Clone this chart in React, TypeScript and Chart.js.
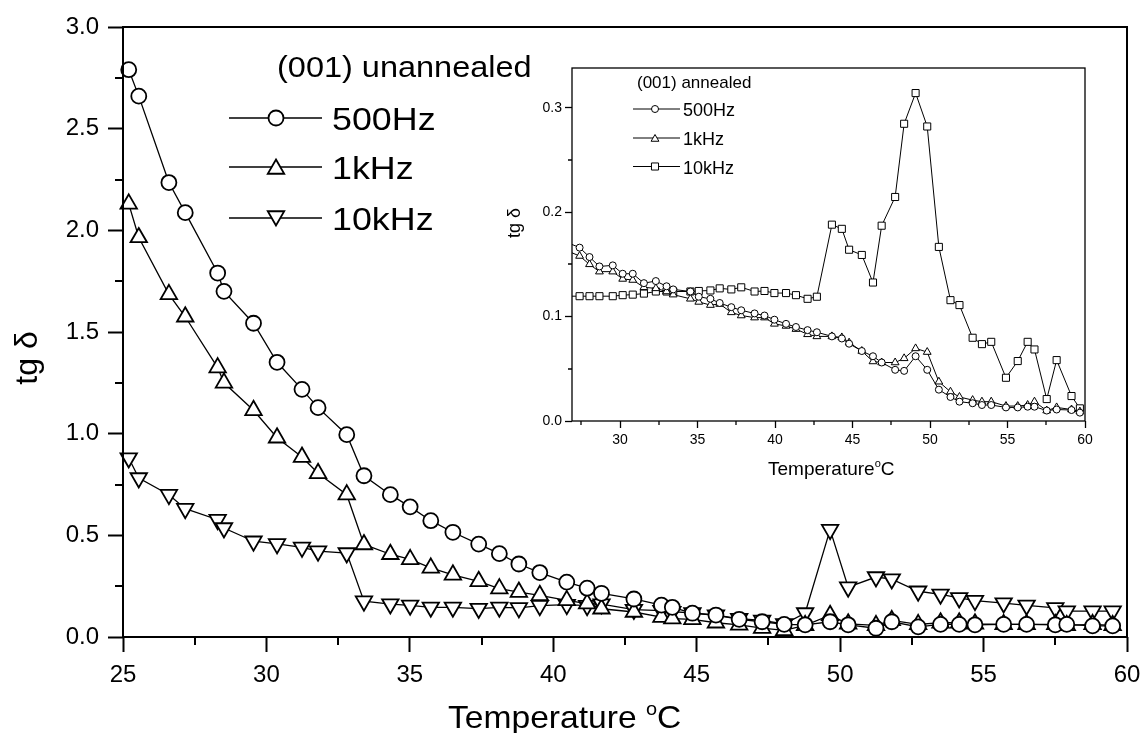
import React, { useEffect, useRef } from 'react';
import { Chart, registerables } from 'chart.js';

Chart.register(...registerables);

const FONT = '"Liberation Sans", Arial, Helvetica, sans-serif';
Chart.defaults.font.family = FONT;
Chart.defaults.color = '#000';

// ---------------- main chart data: (001) unannealed ----------------
const mainTitle = '(001) unannealed';
const seriesLabels = ['500Hz', '1kHz', '10kHz'];
const mainTemps = [25.2, 25.55, 26.6, 27.17, 28.3, 28.52, 29.55, 30.37, 31.24, 31.8, 32.8, 33.4, 34.32, 35.01, 35.73, 36.5, 37.4, 38.12, 38.8, 39.53, 40.47, 41.18, 41.68, 42.81, 43.77, 44.15, 44.85, 45.67, 46.48, 47.28, 48.05, 48.78, 49.65, 50.28, 51.25, 51.8, 52.72, 53.5, 54.15, 54.7, 55.7, 56.5, 57.5, 57.9, 58.8, 59.5];
const main500Hz = [2.79, 2.66, 2.235, 2.087, 1.79, 1.7, 1.543, 1.351, 1.218, 1.128, 0.995, 0.793, 0.7, 0.64, 0.572, 0.515, 0.457, 0.41, 0.359, 0.317, 0.27, 0.24, 0.215, 0.187, 0.157, 0.146, 0.117, 0.108, 0.087, 0.075, 0.062, 0.06, 0.075, 0.06, 0.043, 0.075, 0.05, 0.062, 0.062, 0.06, 0.062, 0.062, 0.06, 0.062, 0.055, 0.055];
const main1kHz = [2.13, 1.965, 1.685, 1.575, 1.325, 1.25, 1.115, 0.98, 0.885, 0.805, 0.7, 0.455, 0.407, 0.382, 0.34, 0.306, 0.274, 0.238, 0.221, 0.205, 0.18, 0.164, 0.139, 0.123, 0.098, 0.09, 0.087, 0.07, 0.06, 0.044, 0.033, 0.057, 0.107, 0.065, 0.057, 0.082, 0.062, 0.07, 0.07, 0.065, 0.062, 0.062, 0.062, 0.057, 0.062, 0.057];
const main10kHz = [0.88, 0.782, 0.7, 0.631, 0.577, 0.536, 0.471, 0.458, 0.441, 0.422, 0.413, 0.176, 0.162, 0.156, 0.146, 0.146, 0.14, 0.146, 0.143, 0.154, 0.159, 0.154, 0.162, 0.135, 0.13, 0.125, 0.118, 0.107, 0.09, 0.082, 0.064, 0.118, 0.528, 0.245, 0.295, 0.285, 0.225, 0.21, 0.192, 0.179, 0.167, 0.156, 0.143, 0.127, 0.127, 0.127];
const mainXTicks = [25, 30, 35, 40, 45, 50, 55, 60];
const mainYTicks = [0, 0.5, 1.0, 1.5, 2.0, 2.5, 3.0];
const mainXMinor = [27.5, 32.5, 37.5, 42.5, 47.5, 52.5, 57.5];
const mainYMinor = [0.25, 0.75, 1.25, 1.75, 2.25, 2.75];

// ---------------- inset chart data: (001) annealed ----------------
const insetTitle = '(001) annealed';
const insetTemps = [26.5, 27.39, 28.03, 28.67, 29.53, 30.17, 30.82, 31.54, 32.31, 33.0, 33.43, 34.54, 35.08, 35.83, 36.43, 37.18, 37.82, 38.68, 39.32, 39.96, 40.71, 41.35, 42.1, 42.7, 43.67, 44.31, 44.78, 45.6, 46.32, 46.88, 47.75, 48.33, 49.07, 49.82, 50.57, 51.32, 51.9, 52.75, 53.35, 53.95, 54.9, 55.66, 56.3, 56.74, 57.53, 58.17, 59.13, 59.67];
const inset500Hz = [0.1715, 0.166, 0.157, 0.148, 0.149, 0.141, 0.141, 0.132, 0.134, 0.129, 0.126, 0.124, 0.119, 0.117, 0.113, 0.109, 0.106, 0.103, 0.101, 0.097, 0.093, 0.09, 0.087, 0.085, 0.081, 0.079, 0.074, 0.067, 0.062, 0.056, 0.049, 0.048, 0.062, 0.049, 0.03, 0.023, 0.0185, 0.017, 0.0153, 0.0153, 0.013, 0.013, 0.0137, 0.0137, 0.01, 0.011, 0.0105, 0.008];
const inset1kHz = [0.1635, 0.158, 0.15, 0.143, 0.143, 0.136, 0.135, 0.128, 0.127, 0.124, 0.121, 0.117, 0.114, 0.111, 0.112, 0.104, 0.101, 0.099, 0.099, 0.093, 0.091, 0.088, 0.083, 0.081, 0.081, 0.08, 0.075, 0.067, 0.057, 0.056, 0.056, 0.06, 0.0695, 0.066, 0.0376, 0.028, 0.023, 0.02, 0.0185, 0.0185, 0.0143, 0.0143, 0.0153, 0.0185, 0.01, 0.013, 0.011, 0.009];
const inset10kHz = [0.1195, 0.1195, 0.1195, 0.1195, 0.1195, 0.1205, 0.121, 0.122, 0.124, 0.124, 0.124, 0.124, 0.1245, 0.125, 0.127, 0.126, 0.128, 0.124, 0.1245, 0.1225, 0.1225, 0.1205, 0.117, 0.119, 0.188, 0.184, 0.164, 0.159, 0.1326, 0.187, 0.2145, 0.2846, 0.314, 0.282, 0.1667, 0.1157, 0.111, 0.0797, 0.0736, 0.0758, 0.0414, 0.0574, 0.0758, 0.0685, 0.021, 0.0583, 0.0239, 0.0121];
const insetXTicks = [30, 35, 40, 45, 50, 55, 60];
const insetYTicks = [0, 0.1, 0.2, 0.3];
const insetXMinor = [27.5, 32.5, 37.5, 42.5, 47.5, 52.5, 57.5];
const insetYMinor = [0.05, 0.15, 0.25];

type Mk = { style: string; rot: number };
const mainMarks: Mk[] = [
  { style: 'circle', rot: 0 },
  { style: 'triangle', rot: 0 },
  { style: 'triangle', rot: 180 },
];
const insetMarks: Mk[] = [
  { style: 'circle', rot: 0 },
  { style: 'triangle', rot: 0 },
  { style: 'rect', rot: 0 },
];

function drawMarker(ctx: CanvasRenderingContext2D, mk: Mk, x: number, y: number, r: number, lw: number) {
  ctx.save();
  ctx.beginPath();
  if (mk.style === 'circle') {
    ctx.arc(x, y, r, 0, Math.PI * 2);
  } else if (mk.style === 'rect') {
    const s = r * Math.SQRT1_2;
    ctx.rect(x - s, y - s, 2 * s, 2 * s);
  } else {
    let a = (mk.rot * Math.PI) / 180;
    for (let i = 0; i < 3; i++) {
      const px = x + Math.sin(a) * r;
      const py = y - Math.cos(a) * r;
      if (i === 0) ctx.moveTo(px, py);
      else ctx.lineTo(px, py);
      a += (2 * Math.PI) / 3;
    }
    ctx.closePath();
  }
  ctx.fillStyle = '#fff';
  ctx.fill();
  ctx.lineWidth = lw;
  ctx.strokeStyle = '#000';
  ctx.stroke();
  ctx.restore();
}

function drawText(ctx: CanvasRenderingContext2D, text: string, x: number, y: number, size: number, sx = 1, align: CanvasTextAlign = 'left') {
  ctx.save();
  ctx.translate(x, y);
  ctx.scale(sx, 1);
  ctx.font = `${size}px ${FONT}`;
  ctx.textAlign = align;
  ctx.textBaseline = 'alphabetic';
  ctx.fillStyle = '#000';
  ctx.fillText(text, 0, 0);
  ctx.restore();
}

function drawTempTitle(ctx: CanvasRenderingContext2D, x: number, y: number, size: number, sx: number, gap: string) {
  ctx.save();
  ctx.translate(x, y);
  ctx.scale(sx, 1);
  ctx.fillStyle = '#000';
  ctx.textAlign = 'left';
  ctx.textBaseline = 'alphabetic';
  ctx.font = `${size}px ${FONT}`;
  const t = 'Temperature' + gap;
  ctx.fillText(t, 0, 0);
  let w = ctx.measureText(t).width;
  ctx.font = `${Math.round(size * 0.6)}px ${FONT}`;
  ctx.fillText('o', w, -size * 0.42);
  w += ctx.measureText('o').width;
  ctx.font = `${size}px ${FONT}`;
  ctx.fillText('C', w, 0);
  ctx.restore();
}

function drawYTitle(ctx: CanvasRenderingContext2D, x: number, y: number, size: number) {
  ctx.save();
  ctx.translate(x, y);
  ctx.rotate(-Math.PI / 2);
  ctx.font = `${size}px ${FONT}`;
  ctx.textAlign = 'center';
  ctx.textBaseline = 'alphabetic';
  ctx.fillStyle = '#000';
  ctx.fillText('tg δ', 0, 0);
  ctx.restore();
}

function drawFrameAndMinor(chart: any, lw: number, minorLen: number, xs: number[], ys: number[]) {
  const { ctx, chartArea: a, scales } = chart;
  ctx.save();
  ctx.strokeStyle = '#000';
  ctx.lineWidth = lw;
  ctx.strokeRect(a.left, a.top, a.right - a.left, a.bottom - a.top);
  ctx.beginPath();
  xs.forEach((v) => {
    const x = Math.round(scales.x.getPixelForValue(v));
    ctx.moveTo(x, a.bottom);
    ctx.lineTo(x, a.bottom + minorLen);
  });
  ys.forEach((v) => {
    const y = Math.round(scales.y.getPixelForValue(v));
    ctx.moveTo(a.left, y);
    ctx.lineTo(a.left - minorLen, y);
  });
  ctx.stroke();
  ctx.restore();
}

const mainDecor = {
  id: 'mainDecor',
  afterDraw(chart: any) {
    const ctx: CanvasRenderingContext2D = chart.ctx;
    drawFrameAndMinor(chart, 2, 8, mainXMinor, mainYMinor);
    drawYTitle(ctx, 37, 358, 32);
    drawTempTitle(ctx, 448, 728, 32, 1.05, ' ');
    // legend
    drawText(ctx, mainTitle, 277, 77, 29, 1.12);
    const rows = [118, 167, 218];
    rows.forEach((ry, i) => {
      ctx.save();
      ctx.strokeStyle = '#000';
      ctx.lineWidth = 1.3;
      ctx.beginPath();
      ctx.moveTo(229, ry);
      ctx.lineTo(322, ry);
      ctx.stroke();
      ctx.restore();
      drawMarker(ctx, mainMarks[i], 276, ry + (i === 1 ? 2 : i === 2 ? -2 : 0), i === 0 ? 7.5 : 9.5, 1.8);
      drawText(ctx, seriesLabels[i], 332, ry + 12, 32, 1.12);
    });
  },
};

const insetDecor = {
  id: 'insetDecor',
  afterDraw(chart: any) {
    const ctx: CanvasRenderingContext2D = chart.ctx;
    drawFrameAndMinor(chart, 1.3, 4, insetXMinor, insetYMinor);
    drawYTitle(ctx, 25, 165, 18);
    drawTempTitle(ctx, 273, 417, 19, 1.0, '');
    drawText(ctx, insetTitle, 142, 30, 17, 1.0);
    const rows = [51, 80, 108.5];
    rows.forEach((ry, i) => {
      ctx.save();
      ctx.strokeStyle = '#000';
      ctx.lineWidth = 1;
      ctx.beginPath();
      ctx.moveTo(138, ry);
      ctx.lineTo(185, ry);
      ctx.stroke();
      ctx.restore();
      drawMarker(ctx, insetMarks[i], 160, ry + (i === 1 ? 1 : 0), i === 0 ? 3.5 : i === 1 ? 4.5 : 5, 1);
      drawText(ctx, seriesLabels[i], 188, ry + 7, 18, 1.0);
    });
  },
};

function mkData(xs: number[], ys: number[]) {
  return xs.map((x, i) => ({ x, y: ys[i] }));
}

function lineDs(label: string, data: any[], mk: Mk, r: number, lw: number, pbw: number, clip: any) {
  return {
    label,
    data,
    borderColor: '#000',
    borderWidth: lw,
    pointStyle: mk.style,
    pointRotation: mk.rot,
    pointRadius: r,
    pointHoverRadius: r,
    pointBorderWidth: pbw,
    pointBorderColor: '#000',
    pointBackgroundColor: '#fff',
    backgroundColor: '#fff',
    fill: false,
    tension: 0,
    clip,
  };
}

function setTicks(vals: number[]) {
  return (s: any) => {
    s.ticks = vals.map((v) => ({ value: v }));
  };
}

export default function App() {
  const mainRef = useRef<HTMLCanvasElement>(null);
  const insetRef = useRef<HTMLCanvasElement>(null);

  useEffect(() => {
    const main = new Chart(mainRef.current as HTMLCanvasElement, {
      type: 'line',
      data: {
        datasets: [
          lineDs(seriesLabels[0], mkData(mainTemps, main500Hz), mainMarks[0], 7.5, 1.3, 1.8, false),
          lineDs(seriesLabels[1], mkData(mainTemps, main1kHz), mainMarks[1], 9.5, 1.3, 1.8, false),
          lineDs(seriesLabels[2], mkData(mainTemps, main10kHz), mainMarks[2], 9.5, 1.3, 1.8, false),
        ] as any,
      },
      options: {
        responsive: false,
        animation: false,
        events: [],
        layout: { padding: { left: 0, top: 27, right: 16, bottom: 0 } },
        plugins: { legend: { display: false }, tooltip: { enabled: false }, title: { display: false } },
        scales: {
          x: {
            type: 'linear',
            min: 25,
            max: 60,
            afterBuildTicks: setTicks(mainXTicks),
            afterFit: (s: any) => {
              s.height = 96;
              s.paddingLeft = 0;
              s.paddingRight = 0;
            },
            ticks: { font: { size: 24 }, color: '#000', padding: 9, maxRotation: 0, autoSkip: false, callback: (v: any) => String(v) },
            grid: { drawOnChartArea: false, drawTicks: true, tickLength: 15, tickWidth: 2, tickColor: '#000' },
            border: { display: false },
          },
          y: {
            type: 'linear',
            min: 0,
            max: 3,
            afterBuildTicks: setTicks(mainYTicks),
            afterFit: (s: any) => {
              s.width = 123;
              s.paddingTop = 0;
              s.paddingBottom = 0;
            },
            ticks: { font: { size: 24 }, color: '#000', padding: 9, autoSkip: false, callback: (v: any) => Number(v).toFixed(1) },
            grid: { drawOnChartArea: false, drawTicks: true, tickLength: 15, tickWidth: 2, tickColor: '#000' },
            border: { display: false },
          },
        },
      } as any,
      plugins: [mainDecor],
    });

    const inset = new Chart(insetRef.current as HTMLCanvasElement, {
      type: 'line',
      data: {
        datasets: [
          lineDs(seriesLabels[0], mkData(insetTemps, inset500Hz), insetMarks[0], 3.5, 1, 1, undefined),
          lineDs(seriesLabels[1], mkData(insetTemps, inset1kHz), insetMarks[1], 4.5, 1, 1, undefined),
          lineDs(seriesLabels[2], mkData(insetTemps, inset10kHz), insetMarks[2], 5, 1, 1, undefined),
        ] as any,
      },
      options: {
        responsive: false,
        animation: false,
        events: [],
        layout: { padding: { left: 0, top: 10, right: 10, bottom: 0 } },
        plugins: { legend: { display: false }, tooltip: { enabled: false }, title: { display: false } },
        scales: {
          x: {
            type: 'linear',
            min: 26.9,
            max: 60,
            afterBuildTicks: setTicks(insetXTicks),
            afterFit: (s: any) => {
              s.height = 67;
              s.paddingLeft = 0;
              s.paddingRight = 0;
            },
            ticks: { font: { size: 14 }, color: '#000', padding: 4, maxRotation: 0, autoSkip: false, callback: (v: any) => String(v) },
            grid: { drawOnChartArea: false, drawTicks: true, tickLength: 7, tickWidth: 1.3, tickColor: '#000' },
            border: { display: false },
          },
          y: {
            type: 'linear',
            min: 0,
            max: 0.338,
            afterBuildTicks: setTicks(insetYTicks),
            afterFit: (s: any) => {
              s.width = 77;
              s.paddingTop = 0;
              s.paddingBottom = 0;
            },
            ticks: { font: { size: 14 }, color: '#000', padding: 3, autoSkip: false, callback: (v: any) => Number(v).toFixed(1) },
            grid: { drawOnChartArea: false, drawTicks: true, tickLength: 7, tickWidth: 1.3, tickColor: '#000' },
            border: { display: false },
          },
        },
      } as any,
      plugins: [insetDecor],
    });

    return () => {
      main.destroy();
      inset.destroy();
    };
  }, []);

  return (
    <div style={{ position: 'absolute', left: 0, top: 0, width: 1143, height: 733, background: '#fff' }}>
      <canvas ref={mainRef} width={1143} height={733} style={{ position: 'absolute', left: 0, top: 0 }} />
      <canvas ref={insetRef} width={600} height={430} style={{ position: 'absolute', left: 495, top: 58 }} />
    </div>
  );
}
